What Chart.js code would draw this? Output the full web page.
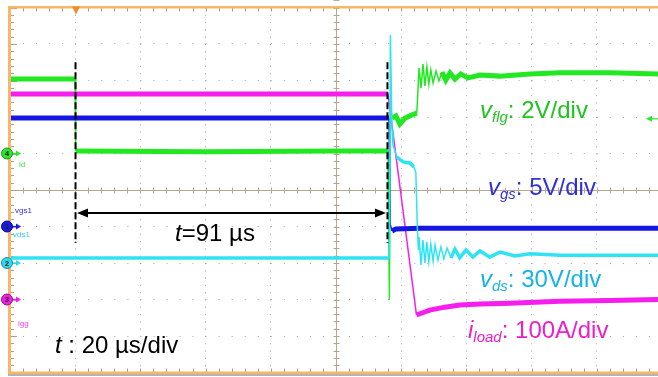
<!DOCTYPE html>
<html>
<head>
<meta charset="utf-8">
<script src="https://cdn.jsdelivr.net/npm/chart.js@4.4.1/dist/chart.umd.min.js"></script>
<style>
  html, body { margin: 0; padding: 0; background: #fff; }
  #wrap { width: 658px; height: 377px; position: relative; }
</style>
</head>
<body>
<div id="wrap"><canvas id="scope"></canvas></div>
<script>
// time axis in µs (20 µs/div), vertical axis in screen divisions (10 div tall)
const xTicks = [0, 20, 40, 60, 80, 100, 120, 140, 160, 180];
const yTicks = [-5, -4, -3, -2, -1, 0, 1, 2, 3, 4, 5];

// traces: [time µs, divisions]
const vflg = [
  [0, 3.04], [19.95, 3.04], [20.15, 1.07], [60, 1.05], [100, 1.07], [115.95, 1.07],
  [116.4, -3.01], [116.7, 2.33], [117.2, 1.97], [118.4, 2.03], [119.6, 1.81], [121.2, 1.97],
  [122.7, 2.03], [124.8, 2.11], [125.5, 3.34], [126.1, 2.79], [126.7, 3.45], [127.3, 2.85],
  [127.9, 3.37], [128.5, 2.90], [129.1, 3.29], [129.8, 2.93], [130.7, 3.26], [131.6, 2.99],
  [132.5, 3.23], [133.7, 3.01], [135.0, 3.21], [136.5, 3.04], [138.3, 3.18], [140.5, 3.07],
  [144.2, 3.15], [150.3, 3.12], [159.5, 3.18], [168.7, 3.21], [184.1, 3.21], [198.8, 3.18]
];
const iload = [
  [0, 2.63], [115.95, 2.63], [124.7, -3.42], [126.4, -3.37], [128.8, -3.29], [133.4, -3.21],
  [138.0, -3.15], [144.2, -3.12], [153.4, -3.10], [168.7, -3.05], [184.1, -3.03], [198.8, -3.0]
];
const vgs = [
  [0, 1.97], [116.3, 1.97], [116.6, -0.93], [117.2, -1.12], [118.4, -1.07], [125.8, -1.05],
  [150.3, -1.05], [198.8, -1.05]
];
const vds = [
  [0, -1.86], [116.4, -1.86], [116.7, 4.25], [117.2, 1.64], [117.5, 1.23], [118.7, 0.90],
  [120.6, 0.77], [122.7, 0.74], [123.9, 0.63], [124.5, 0.49], [125.0, -1.10], [125.3, -1.64],
  [125.5, -1.29], [126.1, -2.05], [126.7, -1.37], [127.3, -2.00], [127.9, -1.42], [128.5, -1.97],
  [129.1, -1.48], [129.8, -1.95], [130.4, -1.51], [131.3, -1.92], [132.2, -1.56], [133.1, -1.89],
  [134.1, -1.59], [135.3, -1.86], [136.5, -1.62], [138.0, -1.86], [139.9, -1.64], [142.0, -1.84],
  [144.2, -1.67], [147.2, -1.84], [150.3, -1.70], [154.9, -1.81], [159.5, -1.75], [168.7, -1.79],
  [198.8, -1.79]
];

// cursors and the 91 µs span
const cursorTimes = [20.1, 115.8];
const cursorSpan = [3.5, -1.45];
const spanLevel = -0.63;
const triggerTime = 20.25;

// channel ground markers on the left edge
const channelIds = ['4', '1', '2', '3'];
const channelLevels = [1, -1, -2, -3];
const flgTrigLevel = 1.95;

const toXY = arr => arr.map(p => ({ x: p[0], y: p[1] }));
const FONT = '"Liberation Sans", Arial, sans-serif';

// keep steep edges thin, noisy flat parts thick
const steepWidth = c =>
  Math.abs(c.p1.y - c.p0.y) > 2.5 * Math.abs(c.p1.x - c.p0.x) ? 1.5 : undefined;

function richText(ctx, x, y, parts, color) {
  ctx.fillStyle = color;
  ctx.textBaseline = 'alphabetic';
  ctx.textAlign = 'left';
  let cx = x;
  for (const p of parts) {
    ctx.font = (p.it ? 'italic ' : '') + p.size + 'px ' + FONT;
    ctx.fillText(p.t, cx, y + (p.dy || 0));
    cx += ctx.measureText(p.t).width;
  }
}

const scopeFrame = {
  id: 'scopeFrame',
  beforeDatasetsDraw(chart) {
    const { ctx, chartArea: a, scales: { x, y } } = chart;
    const cx = Math.round(x.getPixelForValue(100)) + 0.5;
    const cy = Math.round(y.getPixelForValue(0)) + 0.5;
    const dx = (x.getPixelForValue(20) - x.getPixelForValue(0)) / 5;
    const dy = (y.getPixelForValue(0) - y.getPixelForValue(1)) / 5;
    ctx.save();
    ctx.lineWidth = 1;
    // centre cross
    ctx.strokeStyle = '#b5a88e';
    ctx.beginPath();
    ctx.moveTo(a.left, cy); ctx.lineTo(a.right, cy);
    ctx.moveTo(cx, a.top); ctx.lineTo(cx, a.bottom);
    for (let i = -30; i <= 30; i++) {
      const px = Math.round(x.getPixelForValue(100) + i * dx) + 0.5;
      ctx.moveTo(px, cy - 3); ctx.lineTo(px, cy + 3);
      const py = Math.round(y.getPixelForValue(0) + i * dy) + 0.5;
      ctx.moveTo(cx - 3, py); ctx.lineTo(cx + 3, py);
    }
    ctx.stroke();
    // edge ticks
    ctx.strokeStyle = '#a0a0a0';
    ctx.beginPath();
    for (let i = 0; i <= 60; i++) {
      const px = Math.round(a.left + i * dx) + 0.5;
      ctx.moveTo(px, a.top); ctx.lineTo(px, a.top + 4);
      ctx.moveTo(px, a.bottom); ctx.lineTo(px, a.bottom - 4);
    }
    for (let i = 0; i <= 50; i++) {
      const py = Math.round(a.top + i * dy) + 0.5;
      const len = i % 5 === 0 ? 7 : 4;
      ctx.moveTo(a.left, py); ctx.lineTo(a.left + len, py);
    }
    ctx.stroke();
    ctx.restore();
  },
  afterDatasetsDraw(chart) {
    const { ctx, chartArea: a, scales: { x, y } } = chart;
    ctx.save();
    // orange frame
    ctx.fillStyle = '#f7b668';
    ctx.fillRect(a.left - 2, a.top - 1, 3, a.bottom - a.top + 2);
    ctx.fillRect(a.left - 2, a.top - 1.5, a.right - a.left + 2, 2.5);
    ctx.fillRect(a.left - 2, a.bottom - 1, a.right - a.left + 2, 2.5);
    ctx.fillStyle = '#6a6a6a';
    ctx.fillRect(a.left - 2, a.bottom + 2, a.right - a.left + 2, 1);
    // trigger position
    const tx = x.getPixelForValue(triggerTime);
    ctx.fillStyle = '#f28a26';
    ctx.beginPath();
    ctx.moveTo(tx - 4, a.top - 1); ctx.lineTo(tx + 4, a.top - 1); ctx.lineTo(tx, a.top + 7);
    ctx.closePath(); ctx.fill();

    // cursor lines
    ctx.strokeStyle = '#000';
    ctx.lineWidth = 2;
    ctx.setLineDash([7, 3]);
    for (const t of cursorTimes) {
      const px = x.getPixelForValue(t);
      ctx.beginPath();
      ctx.moveTo(px, y.getPixelForValue(cursorSpan[0]));
      ctx.lineTo(px, y.getPixelForValue(cursorSpan[1]));
      ctx.stroke();
    }
    ctx.setLineDash([]);
    // double arrow
    const ay = y.getPixelForValue(spanLevel);
    const x0 = x.getPixelForValue(cursorTimes[0]) + 1.5;
    const x1 = x.getPixelForValue(cursorTimes[1]) - 1.5;
    ctx.beginPath();
    ctx.moveTo(x0 + 8, ay); ctx.lineTo(x1 - 8, ay);
    ctx.stroke();
    ctx.fillStyle = '#000';
    ctx.beginPath();
    ctx.moveTo(x0, ay); ctx.lineTo(x0 + 11, ay - 4.5); ctx.lineTo(x0 + 11, ay + 4.5); ctx.closePath();
    ctx.moveTo(x1, ay); ctx.lineTo(x1 - 11, ay - 4.5); ctx.lineTo(x1 - 11, ay + 4.5); ctx.closePath();
    ctx.fill();

    // channel markers
    const chColors = { '4': '#2ee62e', '1': '#1a1ae6', '2': '#2fd9ee', '3': '#f01ee6' };
    const chEdges = { '4': '#1a9a1a', '1': '#0a0a90', '2': '#1a8fa0', '3': '#a01090' };
    channelIds.forEach((id, i) => {
      const py = y.getPixelForValue(channelLevels[i]);
      const px = 7;
      ctx.strokeStyle = chColors[id];
      ctx.fillStyle = chColors[id];
      ctx.lineWidth = 1.2;
      ctx.beginPath(); ctx.moveTo(px + 4, py); ctx.lineTo(px + 12, py); ctx.stroke();
      ctx.beginPath(); ctx.moveTo(px + 14, py); ctx.lineTo(px + 9, py - 3); ctx.lineTo(px + 9, py + 3); ctx.closePath(); ctx.fill();
      ctx.beginPath(); ctx.arc(px, py, 5.5, 0, Math.PI * 2); ctx.fill();
      ctx.strokeStyle = chEdges[id]; ctx.lineWidth = 1; ctx.stroke();
      ctx.fillStyle = '#222';
      ctx.font = 'bold 8px ' + FONT;
      ctx.textAlign = 'center'; ctx.textBaseline = 'middle';
      ctx.fillText(id, px, py + 0.5);
    });
    ctx.textAlign = 'left'; ctx.textBaseline = 'alphabetic';
    ctx.font = '8px ' + FONT;
    ctx.fillStyle = '#3ee63e'; ctx.fillText('id', 19, 167);
    ctx.fillStyle = '#3030e6'; ctx.fillText('vgs1', 15, 213);
    ctx.fillStyle = '#2fd0ee'; ctx.fillText('vds1', 13, 237);
    ctx.fillStyle = '#f040e6'; ctx.fillText('igg', 18, 326);

    // trigger level arrow for v_flg
    const gy = y.getPixelForValue(flgTrigLevel);
    ctx.strokeStyle = '#2ee62e'; ctx.fillStyle = '#2ee62e'; ctx.lineWidth = 1.2;
    ctx.beginPath(); ctx.moveTo(651, gy); ctx.lineTo(658, gy); ctx.stroke();
    ctx.beginPath(); ctx.moveTo(646, gy); ctx.lineTo(652, gy - 3); ctx.lineTo(652, gy + 3); ctx.closePath(); ctx.fill();

    // scale labels
    richText(ctx, 480, 118, [{ t: 'v', it: 1, size: 24 }, { t: 'flg', it: 1, size: 15, dy: 4 }, { t: ': 2V/div', size: 24 }], '#20c420');
    richText(ctx, 488, 195, [{ t: 'v', it: 1, size: 24 }, { t: 'gs', it: 1, size: 15, dy: 4 }, { t: ': 5V/div', size: 24 }], '#3030dc');
    richText(ctx, 480, 287, [{ t: 'v', it: 1, size: 24 }, { t: 'ds', it: 1, size: 15, dy: 4 }, { t: ': 30V/div', size: 24 }], '#16b2ea');
    richText(ctx, 468, 338, [{ t: 'i', it: 1, size: 24 }, { t: 'load', it: 1, size: 15, dy: 4 }, { t: ': 100A/div', size: 24 }], '#ee1ecb');
    richText(ctx, 175, 241, [{ t: 't', it: 1, size: 24 }, { t: '=91 µs', size: 24 }], '#000');
    richText(ctx, 55, 353, [{ t: 't', it: 1, size: 24 }, { t: ' : 20 µs/div', size: 24 }], '#000');
    ctx.restore();
  }
};

const traceStyle = (label, data, color, width) => ({
  label,
  data: toXY(data),
  borderColor: color,
  borderWidth: width,
  pointRadius: 0,
  tension: 0,
  fill: false,
  segment: { borderWidth: steepWidth }
});

new Chart(document.getElementById('scope'), {
  type: 'line',
  data: {
    datasets: [
      traceStyle('vds', vds, '#2ee4f4', 3.5),
      traceStyle('vgs', vgs, '#1616e4', 5),
      traceStyle('iload', iload, '#f51eec', 5),
      traceStyle('vflg', vflg, '#22e822', 5)
    ]
  },
  options: {
    responsive: true,
    maintainAspectRatio: false,
    animation: false,
    events: [],
    layout: { padding: { left: 10, top: 7.5, right: 0, bottom: 4.5 } },
    plugins: { legend: { display: false }, tooltip: { enabled: false } },
    scales: {
      x: {
        type: 'linear', min: 0, max: 198.8,
        afterBuildTicks: s => { s.ticks = xTicks.map(v => ({ value: v })); },
        ticks: { display: false },
        grid: { color: '#a6a6a6', lineWidth: 1, drawTicks: false },
        border: { display: false, dash: [1, 6.3] }
      },
      y: {
        type: 'linear', min: -5, max: 5,
        afterBuildTicks: s => { s.ticks = yTicks.map(v => ({ value: v })); },
        ticks: { display: false },
        grid: { color: '#a6a6a6', lineWidth: 1, drawTicks: false },
        border: { display: false, dash: [1, 12.04] }
      }
    }
  },
  plugins: [scopeFrame]
});
</script>
</body>
</html>
